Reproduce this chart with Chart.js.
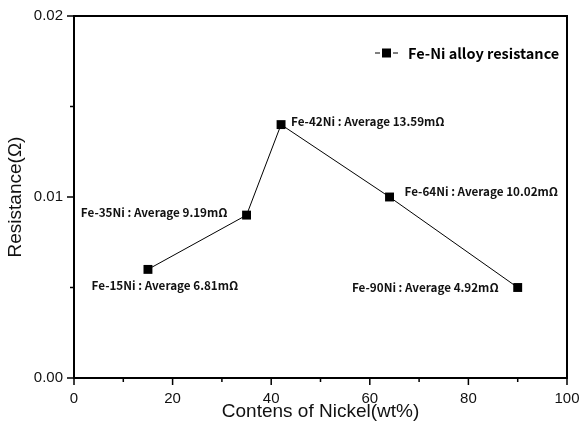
<!DOCTYPE html>
<html>
<head>
<meta charset="utf-8">
<script src="https://cdn.jsdelivr.net/npm/chart.js@4.4.1/dist/chart.umd.min.js"></script>
<style>
  html, body { margin: 0; padding: 0; background: #fff; }
</style>
</head>
<body>
<canvas id="graph" width="579" height="426"></canvas>
<script>
// data
const nickel = [15, 35, 42, 64, 90] ;                      // wt% Ni
const resistance = [0.006, 0.009, 0.014, 0.010, 0.005] ;   // ohm
const pointLabels = [
    'Fe-15Ni : Average 6.81mΩ',
    'Fe-35Ni : Average 9.19mΩ',
    'Fe-42Ni : Average 13.59mΩ',
    'Fe-64Ni : Average 10.02mΩ',
    'Fe-90Ni : Average 4.92mΩ'
] ;
const seriesName = 'Fe-Ni alloy resistance' ;
const xTitle = 'Contens of Nickel(wt%)' ;
const yTitle = 'Resistance(Ω)' ;
const xMajor = [0, 20, 40, 60, 80, 100] ;
const xMinor = [10, 30, 50, 70, 90] ;
const yMajor = [0, 0.01, 0.02] ;
const yMinor = [0.005, 0.015] ;

const labelFont = 'bold 11.7px "Noto Sans CJK KR", "Noto Sans", sans-serif' ;
// where each label sits relative to its point: [align, dx, dy]
const labelPlace = [
    ['center', 17, 16],
    ['right', -19, -3],
    ['left', 10, -3],
    ['left', 15, -5],
    ['right', -19, 0]
] ;

const frameAndText = {
    id: 'frameAndText',
    afterDraw(chart) {
        const { ctx, chartArea: { top, bottom, left, right }, scales: { x, y } } = chart ;
        ctx.save() ;

        // box
        ctx.strokeStyle = '#000' ;
        ctx.lineWidth = 2 ;
        ctx.strokeRect(left, top, right - left, bottom - top) ;

        // ticks, pointing outwards
        ctx.lineWidth = 1.5 ;
        ctx.beginPath() ;
        xMajor.forEach(v => { const px = x.getPixelForValue(v) ; ctx.moveTo(px, bottom) ; ctx.lineTo(px, bottom + 7) ; }) ;
        xMinor.forEach(v => { const px = x.getPixelForValue(v) ; ctx.moveTo(px, bottom) ; ctx.lineTo(px, bottom + 4) ; }) ;
        yMajor.forEach(v => { const py = y.getPixelForValue(v) ; ctx.moveTo(left, py) ; ctx.lineTo(left - 7, py) ; }) ;
        yMinor.forEach(v => { const py = y.getPixelForValue(v) ; ctx.moveTo(left, py) ; ctx.lineTo(left - 4, py) ; }) ;
        ctx.stroke() ;

        // point labels
        ctx.fillStyle = '#111' ;
        ctx.font = labelFont ;
        ctx.textBaseline = 'middle' ;
        const pts = chart.getDatasetMeta(0).data ;
        pts.forEach((p, i) => {
            const [align, dx, dy] = labelPlace[i] ;
            ctx.textAlign = align ;
            ctx.fillText(pointLabels[i], p.x + dx, p.y + dy) ;
        }) ;

        // legend
        const ly = 53 ;
        ctx.lineWidth = 1 ;
        ctx.beginPath() ;
        ctx.moveTo(375, ly) ; ctx.lineTo(380, ly) ;
        ctx.moveTo(393, ly) ; ctx.lineTo(398, ly) ;
        ctx.stroke() ;
        ctx.fillStyle = '#000' ;
        ctx.fillRect(382, ly - 4.5, 9, 9) ;
        ctx.font = 'bold 14.5px "Noto Sans CJK KR", "Noto Sans", sans-serif' ;
        ctx.textAlign = 'left' ;
        ctx.fillText(seriesName, 408, ly) ;

        ctx.restore() ;
    }
} ;

const graph = new Chart(document.getElementById('graph'), {
    type: 'line',
    data: {
        datasets: [{
            label: seriesName,
            data: nickel.map((n, i) => ({ x: n, y: resistance[i] })),
            borderColor: '#000',
            borderWidth: 1,
            backgroundColor: '#000',
            pointStyle: 'rect',
            pointRadius: 6.3,
            pointBorderWidth: 0,
            fill: false,
            tension: 0
        }]
    },
    options: {
        responsive: false,
        animation: false,
        layout: { padding: { top: 16, right: 12, left: 0, bottom: 0 } },
        scales: {
            x: {
                type: 'linear',
                min: 0,
                max: 100,
                grid: { display: false, drawTicks: false },
                border: { display: false },
                ticks: {
                    stepSize: 20,
                    padding: 12,
                    color: '#111',
                    font: { family: '"Liberation Sans", Arial, sans-serif', size: 15 }
                },
                title: {
                    display: true,
                    text: xTitle,
                    color: '#111',
                    padding: { top: 0, bottom: 3 },
                    font: { family: '"Liberation Sans", Arial, sans-serif', size: 19 }
                },
                afterFit(scale) {
                    scale.height = 48 ;
                    scale.paddingLeft = 0 ;
                    scale.paddingRight = 0 ;
                }
            },
            y: {
                min: 0,
                max: 0.02,
                grid: { display: false, drawTicks: false },
                border: { display: false },
                ticks: {
                    stepSize: 0.01,
                    padding: 11,
                    color: '#111',
                    font: { family: '"Liberation Sans", Arial, sans-serif', size: 15 },
                    callback: v => v.toFixed(2)
                },
                title: {
                    display: true,
                    text: yTitle,
                    color: '#111',
                    padding: { top: 4, bottom: 0 },
                    font: { family: '"Liberation Sans", Arial, sans-serif', size: 19 }
                },
                afterFit(scale) {
                    scale.width = 74 ;
                    scale.paddingTop = 0 ;
                    scale.paddingBottom = 0 ;
                }
            }
        },
        plugins: {
            legend: { display: false },
            tooltip: { enabled: false }
        }
    },
    plugins: [frameAndText]
});
</script>
</body>
</html>
